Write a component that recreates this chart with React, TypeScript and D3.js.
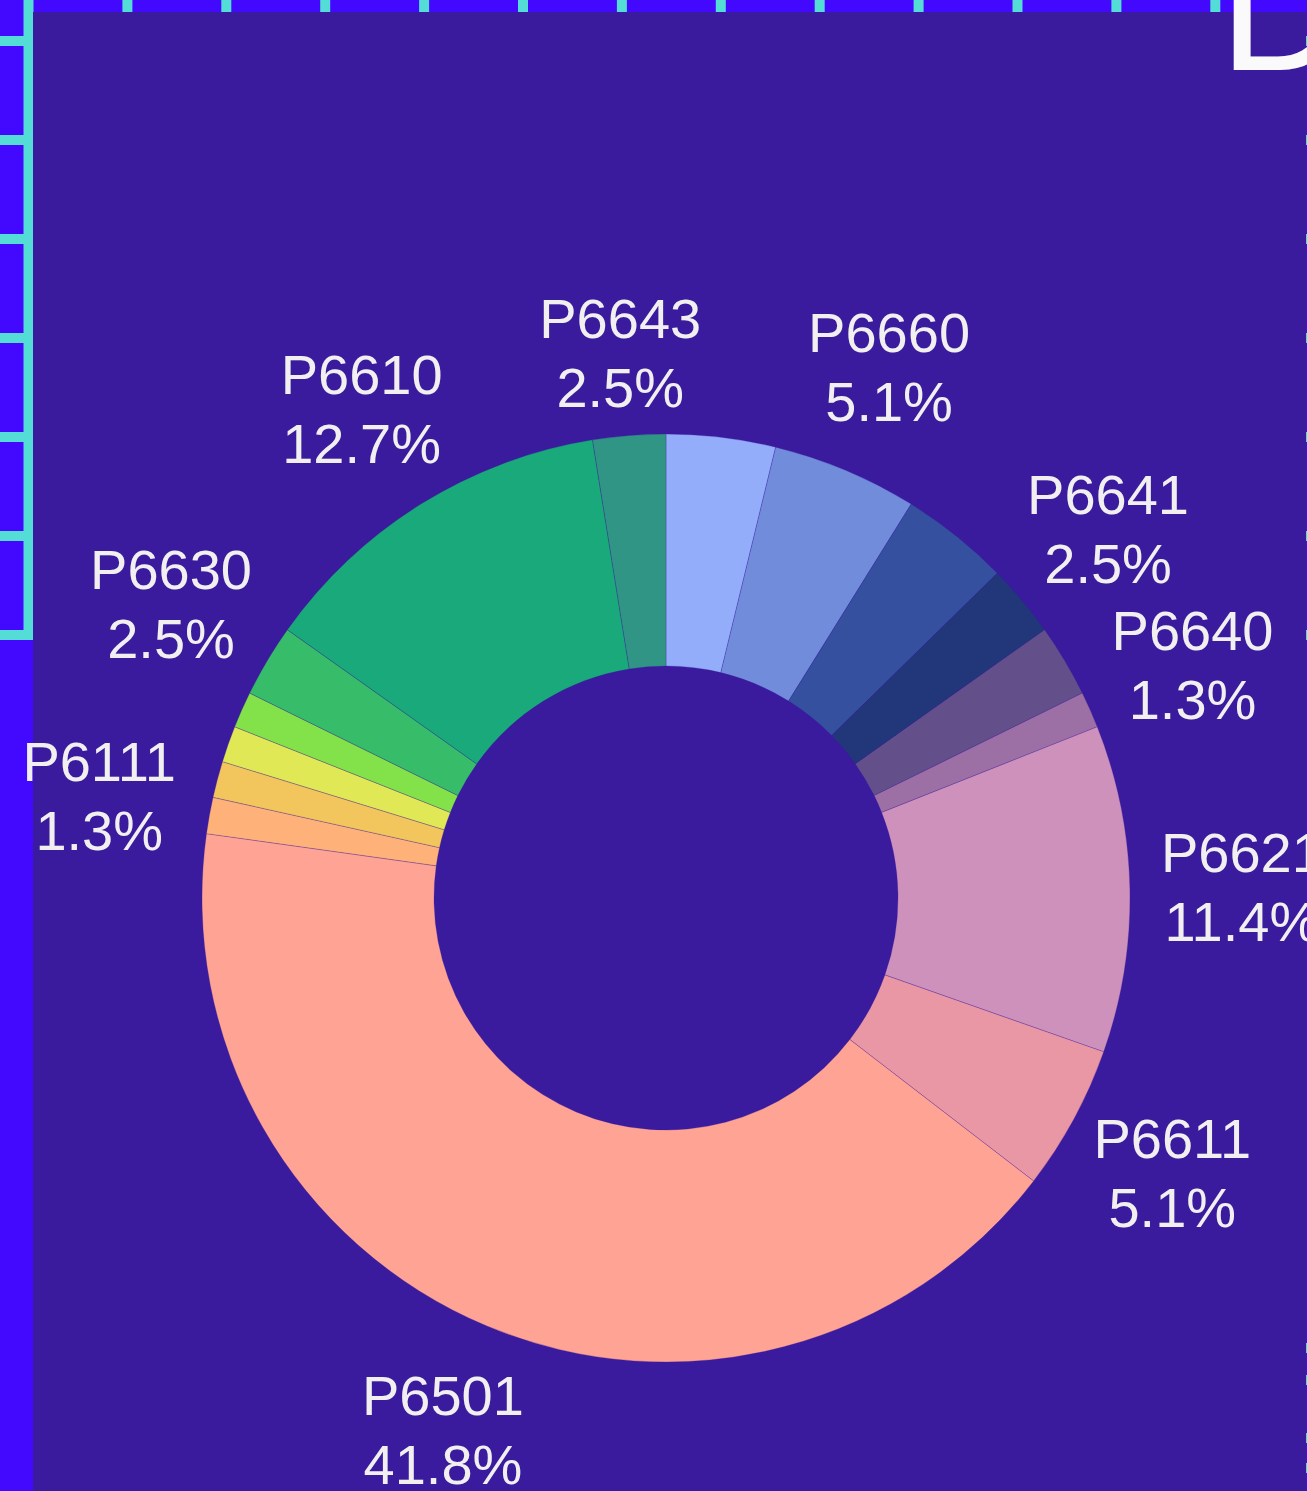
import * as d3 from 'd3';

const width = 1307;
const height = 1491;
const cx = 666;
const cy = 898;
const outerR = 464;
const innerR = 232;
const labelR = 576;
const labelTop = 296;
const fontSize = 56;
const lineGap = 69;

// slices clockwise from 12 o'clock
const codes = ['P6661', 'P6660', 'P6642', 'P6641', 'P6650', 'P6640', 'P6621', 'P6611',
    'P6501', 'P6111', 'P6112', 'P6120', 'P6631', 'P6630', 'P6610', 'P6643'];
const counts = [3, 4, 3, 2, 2, 1, 9, 4, 33, 1, 1, 1, 1, 2, 10, 2];
const colors = ['#93adfa', '#728cdc', '#34509f', '#22367a', '#63508b', '#9c70a5', '#cd91bb', '#e996a5',
    '#ffa494', '#feb27a', '#f2c65d', '#e1e856', '#83e14a', '#37bd6a', '#19a97a', '#319585'];

const bgBlue = '#4309ff';
const gridCyan = '#53ddd6';
const panel = '#3a1a9d';
const textColor = '#f1efef';

// little cyan bits peeking at the right edge
const edgeMarks = [1343, 1375, 1433, 1463];

function measure(txt: string) {
    const ctx = document.createElement('canvas').getContext('2d');
    if (!ctx) return txt.length * fontSize * 0.56;
    ctx.font = `${fontSize}px "Liberation Sans", Arial, sans-serif`;
    return ctx.measureText(txt).width;
}

type Box = { x0: number, x1: number, y0: number, y1: number };

export default function App() {
    const total = d3.sum(counts);
    const data = codes.map((c, i) => ({ code: c, value: counts[i], color: colors[i], i }));
    const pie = d3.pie<any>().sort(null).value(d => d.value);
    const arcs = pie(data);
    const arc = d3.arc<any>().innerRadius(innerR).outerRadius(outerR);

    // label placement + hide overlapping ones (bigger values win)
    const labels = arcs.map(a => {
        const mid = (a.startAngle + a.endAngle) / 2;
        const pct = (a.data.value / total * 100).toFixed(1) + '%';
        const w = Math.max(measure(a.data.code), measure(pct));
        let x = cx + Math.sin(mid) * labelR;
        let y = cy - Math.cos(mid) * labelR;
        if (y - fontSize < labelTop) y = labelTop + fontSize;
        const box: Box = { x0: x - w / 2, x1: x + w / 2, y0: y - fontSize, y1: y + fontSize };
        return { x, y, pct, box, code: a.data.code, value: a.data.value, i: a.data.i, show: false };
    });
    const kept: Box[] = [];
    [...labels].sort((a, b) => b.value - a.value || a.i - b.i).forEach(l => {
        const hit = kept.some(k => l.box.x0 < k.x1 && l.box.x1 > k.x0 && l.box.y0 < k.y1 && l.box.y1 > k.y0);
        if (!hit) {
            kept.push(l.box);
            l.show = true;
        }
    });

    const gridXs = d3.range(23.5, width, 98.9);
    const gridYs = d3.range(0, 7).map(k => 36 + k * 99);
    const gridBottom = 640;

    return (
        <svg width={width} height={height} style={{ position: 'absolute', left: 0, top: 0, display: 'block' }}
            fontFamily='"Liberation Sans", Arial, sans-serif'>
            <rect width={width} height={height} fill={bgBlue} />
            {gridXs.map((x, i) => <rect key={'gx' + i} x={x} y={0} width={10} height={gridBottom} fill={gridCyan} />)}
            {gridYs.map((y, i) => <rect key={'gy' + i} x={0} y={y} width={width} height={10} fill={gridCyan} />)}
            {edgeMarks.map((y, i) => <rect key={'em' + i} x={1304} y={y} width={3} height={10} fill={gridCyan} />)}
            <rect x={33} y={12} width={1273} height={height - 12} fill={panel} />
            <text x={1219} y={70} fontSize={180} fill="#fafafa">D</text>

            <g transform={`translate(${cx},${cy})`}>
                {arcs.map((a, i) => (
                    <path key={i} d={arc(a) || ''} fill={a.data.color} stroke={panel} strokeOpacity={0.35} strokeWidth={0.8} />
                ))}
            </g>

            {labels.filter(l => l.show).map(l => (
                <text key={l.code} textAnchor="middle" fontSize={fontSize} fill={textColor}>
                    <tspan x={l.x} y={l.y - 14.5}>{l.code}</tspan>
                    <tspan x={l.x} y={l.y - 14.5 + lineGap}>{l.pct}</tspan>
                </text>
            ))}
        </svg>
    );
}
